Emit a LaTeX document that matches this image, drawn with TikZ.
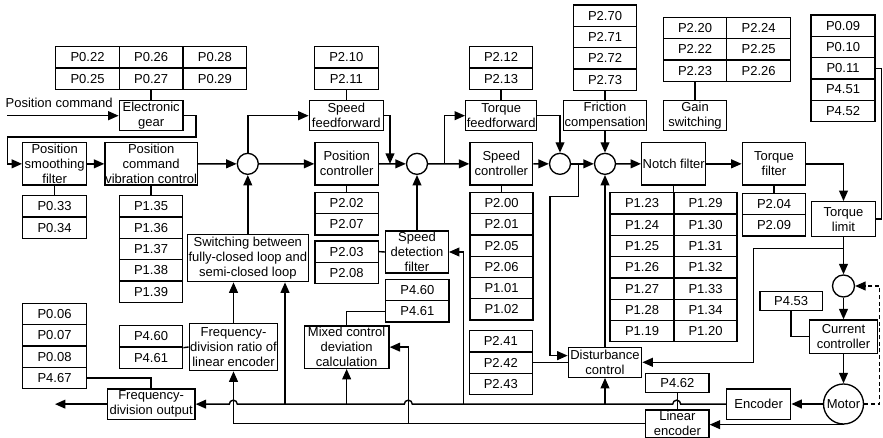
\documentclass[tikz,border=0pt]{standalone}
\usepackage{fontspec}
\setmainfont{Liberation Sans}
\usetikzlibrary{arrows.meta}
\newcommand\bx[6]{\node[box,minimum width={((#4)-(#2))*0.75pt},minimum height={((#5)-(#3))*0.75pt}] (#1) at ({((#2)+(#4))/2},{((#3)+(#5))/2}) {#6};}
\newcommand\ptab[5]{\foreach \lab [count=\i from 0] in {#5} {\node[box,minimum width={((#3)-(#2))*0.75pt},minimum height={21.3*0.75pt}] (#1-\i) at ({((#2)+(#3))/2},{(#4)+(\i+0.5)*21.3}) {\lab};}}
\tikzset{
 box/.style={draw,line width=1pt,inner sep=0pt,align=center,font=\fontsize{9.75}{11.25}\selectfont},
 circ/.style={draw,circle,line width=1pt,inner sep=0pt,minimum size=15.75pt,font=\fontsize{9.75}{11.25}\selectfont},
 arr/.style={-{Triangle[length=7.8pt,width=6.6pt]}},
}
\begin{document}
\begin{tikzpicture}[x=0.75pt,y=-0.75pt,line width=1.05pt]
\useasboundingbox (0,0) rectangle (883,438);
% boxes
\bx{gear}{119.3}{100.7}{183}{130.7}{Electronic\\gear}
\bx{psf}{22.7}{142.7}{86.7}{185}{Position\\smoothing\\filter}
\bx{pcvc}{105}{142.7}{197.3}{185}{Position\\command\\vibration control}
\bx{sff}{309.3}{100.7}{383.3}{130.7}{Speed\\feedforward}
\bx{pc}{315}{142.7}{378.3}{185}{Position\\controller}
\bx{sdf}{385.7}{231}{448.3}{273}{Speed\\detection\\filter}
\bx{sc}{470}{142.7}{532.7}{185}{Speed\\controller}
\bx{tff}{465.7}{100.7}{536.7}{130.7}{Torque\\feedforward}
\bx{fc}{563.3}{100.7}{646.7}{130.7}{Friction\\compensation}
\bx{gs}{663.3}{100.7}{726.7}{130.7}{Gain\\switching}
\bx{nf}{641.7}{142.7}{705.7}{185}{Notch filter}
\bx{tf}{742.3}{142.7}{805.7}{185}{Torque\\filter}
\bx{tl}{811.2}{201.7}{875.8}{236.7}{Torque\\limit}
\bx{cc}{809.5}{320}{877.5}{353.3}{Current\\controller}
\bx{enc}{726.7}{389}{790.7}{419.3}{Encoder}
\bx{lenc}{645.7}{410}{709}{437.5}{Linear\\encoder}
\bx{p462}{645.7}{373.3}{709}{392.7}{P4.62}
\bx{p453}{760}{291.7}{822.3}{310.7}{P4.53}
\bx{dc}{568.3}{347.3}{641.7}{377.3}{Disturbance\\control}
\bx{mix}{304.3}{326}{389}{368.3}{Mixed control\\deviation\\calculation}
\bx{ratio}{189.3}{323.3}{277.7}{370.7}{Frequency-\\division ratio of\\linear encoder}
\bx{fdo}{107.3}{389}{195}{419.3}{Frequency-\\division output}
\bx{sw}{187.3}{234.3}{308.3}{281.7}{Switching between\\fully-closed loop and\\semi-closed loop}
% tables
\ptab{ga}{55.7}{119.3}{46.7}{P0.22,P0.25}
\ptab{gb}{119.3}{183}{46.7}{P0.26,P0.27}
\ptab{gc}{183}{246.7}{46.7}{P0.28,P0.29}
\ptab{pt}{22.7}{86.3}{195.7}{P0.33,P0.34}
\ptab{pct}{119.3}{182.7}{195.7}{P1.35,P1.36,P1.37,P1.38,P1.39}
\ptab{pz}{22.7}{86.3}{303.3}{P0.06,P0.07,P0.08,P4.67}
\ptab{rt}{119.3}{182.7}{325.7}{P4.60,P4.61}
\ptab{sft}{314.3}{378.3}{46.7}{P2.10,P2.11}
\ptab{pcb}{315}{378.3}{192.3}{P2.02,P2.07}
\ptab{st}{315}{378.3}{241}{P2.03,P2.08}
\ptab{mt}{385.7}{449}{279.3}{P4.60,P4.61}
\ptab{tft}{469.3}{532.7}{46.7}{P2.12,P2.13}
\ptab{sct}{470}{533}{192.3}{P2.00,P2.01,P2.05,P2.06,P1.01,P1.02}
\ptab{dt}{469.3}{532.3}{330.7}{P2.41,P2.42,P2.43}
\ptab{ft}{573.3}{636.7}{5}{P2.70,P2.71,P2.72,P2.73}
\ptab{gsa}{663.3}{726.7}{17.3}{P2.20,P2.22,P2.23}
\ptab{gsb}{726.7}{790.7}{17.3}{P2.24,P2.25,P2.26}
\ptab{tlt}{811}{875}{15}{P0.09,P0.10,P0.11,P4.51,P4.52}
\ptab{nta}{610}{674}{192.7}{P1.23,P1.24,P1.25,P1.26,P1.27,P1.28,P1.19}
\ptab{ntb}{674}{737}{192.7}{P1.29,P1.30,P1.31,P1.32,P1.33,P1.34,P1.20}
\ptab{tfb}{742.3}{805.7}{193.3}{P2.04,P2.09}
% summing junctions and motor
\node[circ] (c1) at (247.8,163.85) {};
\node[circ] (c2) at (417,163.85) {};
\node[circ] (c3) at (560,163.85) {};
\node[circ] (c4) at (605,163.85) {};
\node[circ,minimum size=16.5pt] (c5) at (843.5,286) {};
\node[circ,minimum size=30pt] (motor) at (843.5,404) {Motor};
% label
\node[anchor=west,inner sep=0pt,font=\fontsize{9.75}{11.25}\selectfont] (pcl) at (5,102.5) {Position command};
% coordinates
\coordinate (pcin) at (7,115.7);
\coordinate (g1) at (196,137);
\coordinate (g2) at (7.3,137);
\coordinate (j1) at (390,163.85);
\coordinate (j2) at (444.3,163.85);
\coordinate (j3) at (578.3,163.85);
\coordinate (j3b) at (550,196.7);
\coordinate (j4) at (843.5,248.3);
\coordinate (j4b) at (753.3,248.3);
\coordinate (d1) at (879.3,404);
\coordinate (b1) at (605,404.15);
\coordinate (b2) at (463.3,404.15);
\coordinate (b3) at (346.65,404.15);
\coordinate (b4) at (285,404.15);
\coordinate (b5) at (408.3,423.75);
\coordinate (fout) at (55,404.15);
% main connectors
\draw[arr] (pcin) -- (gear.west);
\draw[arr] (gear.east) -| (g1) -- (g2) |- (psf.west);
\draw[arr] (psf.east) -- (pcvc.west);
\draw[arr] (pcvc.east) -- (c1.west);
\draw[arr] (c1.north) |- (sff.west);
\draw[arr] (c1.east) -- (pc.west);
\draw[arr] (sff.east) -| (j1);
\draw[arr] (pc.east) -- (c2.west);
\draw[arr] (sdf.north) -- (sdf.north |- c2.south);
\draw[arr] (c2.east) -- (sc.west);
\draw[arr] (j2) |- (tff.west);
\draw[arr] (tff.east) -| (c3.north);
\draw[arr] (sc.east) -- (c3.west);
\draw[arr] (c3.east) -- (c4.west);
\draw[arr] (j3) |- (j3b) |- ([yshift=5pt]dc.west);
\draw[arr] (fc.south) -- (c4.north);
\draw[arr] (dc.north) -- (c4.south);
\draw[arr] (c4.east) -- (nf.west);
\draw[arr] (nf.east) -- (tf.west);
\draw[arr] (tf.east) -| (tl.north);
\draw[arr] (tl.south) -- (c5.north);
\draw[arr] (j4) -- (j4b) |- (dc.east);
\draw[arr] (c5.south) -- (cc.north);
\draw[arr] (cc.south) -- (motor.north);
\draw (p453.south) |- (cc.west);
\draw[arr,dash pattern=on 3pt off 2pt] (motor.east) -- (d1) |- (c5.east);
\draw[arr] (motor.west) -- (motor.west -| enc.east);
\draw[arr] (enc.west) -- (680.7,404.15) arc[start angle=0,end angle=180,radius=3pt]
  -- (412.3,404.15) arc[start angle=0,end angle=180,radius=3pt]
  -- (237.3,404.15) arc[start angle=0,end angle=180,radius=3pt] -- (fdo.east);
\draw[arr] (b1) -- (dc.south);
\draw[arr] (b2) |- (sdf.east);
\draw[arr] (b3) -- (mix.south);
\draw[arr] (b4) -- (b4 |- sw.south);
\draw[arr] (fdo.west) -- (fout);
\draw[arr] (motor.south) -- (motor.south -| lenc.east);
\draw[arr] (lenc.west) -| (ratio.south);
\draw[arr] (b5) |- (mix.east);
\draw[arr] (ratio.north) -- (ratio.north |- sw.south);
\draw[arr] (sw.north) -- (c1.south);
\draw (p462.south) -- (lenc.north);
% parameter links
\draw (pz-3.east) -| (fdo.north);
\draw (rt-0.south east) -- (ratio.west);
\draw (mix.north) |- (mt-1.west);
\draw (st-0.east) -- (sdf.west);
\draw (dt-1.east) -- (dt-1.east -| dc.west);
\draw (gb-1.south) -- (gear.north);
\draw (psf.south) -- (psf.south |- pt-0.north);
\draw (pcvc.south) -- (pcvc.south |- pct-0.north);
\draw (sft-1.south) -- (sft-1.south |- sff.north);
\draw (pc.south) -- (pc.south |- pcb-0.north);
\draw (tft-1.south) -- (tft-1.south |- tff.north);
\draw (sc.south) -- (sc.south |- sct-0.north);
\draw (ft-3.south) -- (ft-3.south |- fc.north);
\draw (gs.north) -- (gs.north |- gsa-2.south);
\draw (nf.south) -- (nf.south |- nta-0.north);
\draw (tf.south) -- (tf.south |- tfb-0.north);
\draw (tlt-2.east) -- ++(6,0) |- (tl.east);
\end{tikzpicture}
\end{document}
